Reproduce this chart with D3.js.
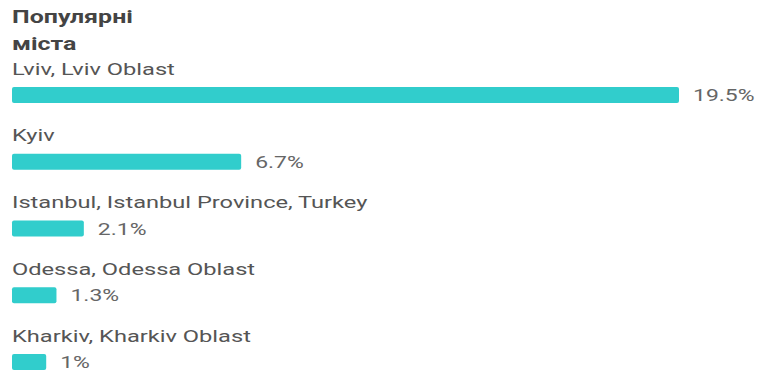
<!DOCTYPE html>
<html>
<head>
<meta charset="utf-8">
<script src="https://cdn.jsdelivr.net/npm/d3@7"></script>
<style>
  html, body { margin: 0; padding: 0; background: #fff; }
  svg { display: block; }
</style>
</head>
<body>
<svg id="chart" width="769" height="373"></svg>
<script>
// Popular cities, share of visitors (%)
const titleLines = ["Популярні", "міста"];
const cities = [
  "Lviv, Lviv Oblast",
  "Kyiv",
  "Istanbul, Istanbul Province, Turkey",
  "Odessa, Odessa Oblast",
  "Kharkiv, Kharkiv Oblast"
];
const shares = [19.5, 6.7, 2.1, 1.3, 1];
const shareLabels = ["19.5%", "6.7%", "2.1%", "1.3%", "1%"];

const rows = cities.map((c, i) => ({ city: c, value: shares[i], label: shareLabels[i] }));

const svg = d3.select("#chart");
const font = "Roboto, 'Noto Sans', sans-serif";

const x = d3.scaleLinear().domain([0, 19.5]).range([12, 679]);
const y = d3.scaleBand().domain(cities).range([54, 54 + 66.75 * cities.length]);

// text drawn with wide glyphs
function wideText(sel, tx, ty, sx) {
  return sel.attr("transform", (d, i) => `translate(${tx(d, i)},${ty(d, i)}) scale(${sx},1)`);
}

// title
wideText(
  svg.selectAll("text.title").data(titleLines).join("text").attr("class", "title"),
  () => 12, (d, i) => 23 + i * 27, 1.35
)
  .attr("font-family", font)
  .attr("font-weight", 700)
  .attr("font-size", 18.5)
  .attr("fill", "#444")
  .text(d => d);

const row = svg.selectAll("g.row").data(rows).join("g").attr("class", "row");

wideText(row.append("text"), () => 12, d => y(d.city) + 20.5, 1.39)
  .attr("font-family", font)
  .attr("font-size", 17)
  .attr("fill", "#555")
  .text(d => d.city);

row.append("rect")
  .attr("x", x(0))
  .attr("y", d => y(d.city) + 33)
  .attr("width", d => x(d.value) - x(0))
  .attr("height", 16)
  .attr("rx", 2)
  .attr("fill", "#31cdcc");

wideText(row.append("text"), d => x(d.value) + 14, d => y(d.city) + 47, 1.35)
  .attr("font-family", font)
  .attr("font-size", 17)
  .attr("fill", "#666")
  .text(d => d.label);
</script>
</body>
</html>
